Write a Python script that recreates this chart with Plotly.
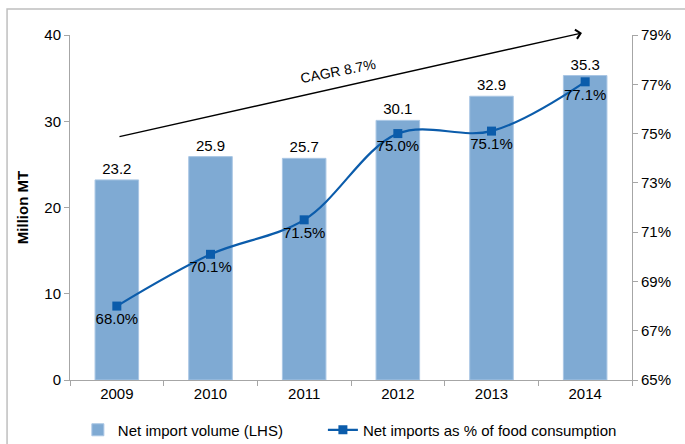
import plotly.graph_objects as go

years = ["2009", "2010", "2011", "2012", "2013", "2014"]
volume = [23.2, 25.9, 25.7, 30.1, 32.9, 35.3]
share_pct = [68.0, 70.1, 71.5, 75.0, 75.1, 77.1]
right_ticks = [65, 67, 69, 71, 73, 75, 77, 79]

FONT = "Arial, Liberation Sans, sans-serif"
FS = 15
BAR_COLOR = "#7FAAD3"
LINE_COLOR = "#0B5CAB"
AXIS_COLOR = "#A6A6A6"

fig = go.Figure()
fig.add_trace(go.Bar(
    x=years, y=volume, name="Net import volume (LHS)", legend="legend",
    marker=dict(color=BAR_COLOR, line=dict(color="#A9C6E4", width=1)),
    text=[f"{v:.1f}" for v in volume], textposition="outside",
    textfont=dict(size=FS, color="#000000", family=FONT),
    cliponaxis=False,
))
fig.add_trace(go.Scatter(
    x=years, y=share_pct, name="Net imports as % of food consumption", legend="legend2",
    yaxis="y2", mode="lines+markers+text",
    line=dict(color=LINE_COLOR, width=2.2, shape="spline", smoothing=1.0),
    marker=dict(symbol="square", size=9, color=LINE_COLOR),
    text=[f"{v:.1f}%" for v in share_pct], textposition="bottom center",
    textfont=dict(size=FS, color="#000000", family=FONT),
    cliponaxis=False,
))

legend_common = dict(orientation="h", xanchor="left", y=-0.145, yanchor="middle",
                     font=dict(size=FS, family=FONT), itemwidth=30,
                     bgcolor="rgba(0,0,0,0)")

fig.update_layout(
    width=685, height=444,
    margin=dict(l=70, r=53, t=35, b=64, autoexpand=False),
    paper_bgcolor="white", plot_bgcolor="white",
    font=dict(family=FONT, size=FS, color="#000000"),
    bargap=0.535,
    showlegend=True,
    legend=dict(x=0.014, **legend_common),
    legend2=dict(x=0.450, **legend_common),
    xaxis=dict(type="category", showline=True, linecolor=AXIS_COLOR, linewidth=1,
               ticks="outside", tickson="boundaries", ticklen=5, tickcolor=AXIS_COLOR,
               showgrid=False, tickfont=dict(size=FS), automargin=False),
    yaxis=dict(range=[0, 40], dtick=10, showline=True, linecolor=AXIS_COLOR, linewidth=1,
               ticks="outside", ticklen=5, tickcolor=AXIS_COLOR, showgrid=False,
               zeroline=False, tickfont=dict(size=FS), automargin=False,
               title=dict(text="<b>Million MT</b>", font=dict(size=FS), standoff=12)),
    yaxis2=dict(overlaying="y", side="right", range=[65, 79], tickvals=right_ticks,
                ticktext=[f"{t}%" for t in right_ticks], showline=True,
                linecolor=AXIS_COLOR, linewidth=1, ticks="outside", ticklen=5,
                tickcolor=AXIS_COLOR, showgrid=False, zeroline=False,
                tickfont=dict(size=FS), automargin=False),
)

# CAGR arrow (paper coordinates, tail offset in pixels)
fig.add_annotation(x=0.911, y=1.006, xref="paper", yref="paper",
                   ax=-464, ay=104, showarrow=True, arrowhead=4, arrowsize=1.3,
                   arrowwidth=1.4, arrowcolor="#000000", text="", standoff=0,
                   startstandoff=0)
fig.add_annotation(x=0.477, y=0.945, xref="paper", yref="paper", text="CAGR 8.7%",
                   showarrow=False, textangle=-11, font=dict(size=14, family=FONT))

# outer chart border
fig.add_shape(type="rect", xref="paper", yref="paper", x0=-0.112, x1=1.3,
              y0=-0.5, y1=1.0754, line=dict(color="#BFBFBF", width=1.5),
              fillcolor="rgba(0,0,0,0)", layer="below")

fig.write_html("out.html", config={"displayModeBar": False},
               post_script="document.body.style.margin='0';")
